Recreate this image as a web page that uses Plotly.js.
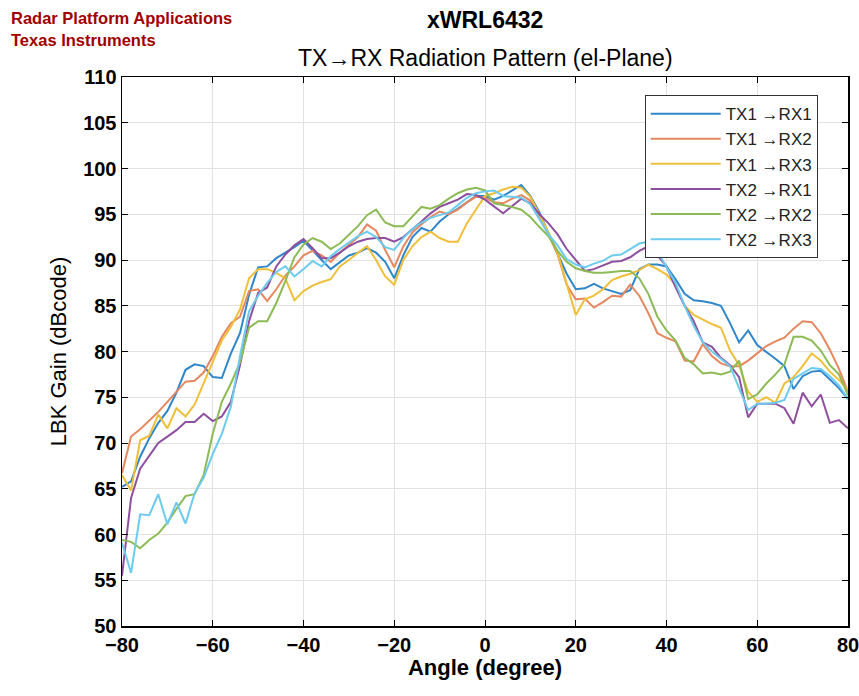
<!DOCTYPE html>
<html>
<head>
<meta charset="utf-8">
<script src="https://cdn.plot.ly/plotly-3.0.1.min.js"></script>
<style>html,body{margin:0;padding:0;background:#fff;}#chart{width:859px;height:696px;}</style>
</head>
<body>
<div id="chart"></div>
<script>
const angles = [];
for (let a = -80; a <= 80; a += 2) angles.push(a);

const seriesNames = ["TX1 \u2192RX1", "TX1 \u2192RX2", "TX1 \u2192RX3", "TX2 \u2192RX1", "TX2 \u2192RX2", "TX2 \u2192RX3"];
const seriesColors = ["#2f86c9", "#e5875f", "#efbf3a", "#8e4f9e", "#8cbb55", "#6ccbee"];

const tx1rx1 = [65.2,65.8,68.5,70.5,72.2,73.5,75.5,78.0,78.6,78.4,77.2,77.1,79.8,82.0,86.2,89.2,89.3,90.2,90.8,91.4,92.1,91.0,90.0,89.0,89.8,90.5,90.8,91.3,90.8,89.8,88.0,90.5,92.5,93.5,93.1,94.2,95.0,95.6,96.3,97.0,97.0,96.6,97.0,97.6,98.2,97.0,95.2,92.9,90.6,88.5,86.8,86.9,87.4,86.9,86.6,86.3,86.7,89.0,89.5,89.5,89.3,87.9,86.3,85.6,85.5,85.3,85.0,83.1,81.0,82.3,80.7,80.0,79.2,78.4,75.9,77.3,77.8,77.9,77.0,76.0,74.8];
const tx1rx2 = [66.7,70.7,71.5,72.4,73.4,74.5,75.6,76.7,76.8,77.7,79.5,81.6,83.1,83.8,86.6,86.8,85.5,86.8,88.3,89.3,90.5,91.0,90.5,89.8,90.8,91.7,92.5,93.9,93.2,91.1,89.2,91.5,93.0,93.9,94.7,95.3,95.0,95.5,96.3,96.9,96.8,96.3,96.2,96.7,97.1,96.5,94.8,92.8,90.6,87.3,85.7,85.8,84.8,85.4,86.1,86.0,87.3,86.1,84.2,82.0,81.5,81.1,79.0,78.9,80.8,79.5,78.7,78.4,78.4,79.0,79.8,80.6,81.1,81.5,82.5,83.3,83.2,82.0,80.2,78.1,75.6];
const tx1rx3 = [66.5,64.8,70.3,70.8,73.1,71.6,73.8,72.9,74.2,76.5,79.0,81.2,82.7,84.6,88.0,89.0,89.0,88.6,88.0,85.6,86.6,87.2,87.6,87.9,89.3,90.0,90.8,91.5,90.0,88.2,87.3,90.0,91.5,92.5,93.1,92.4,92.0,92.0,94.0,95.5,97.0,97.3,97.7,98.0,97.9,96.9,95.0,93.0,90.8,87.5,84.0,85.7,86.1,86.8,87.8,88.2,88.5,88.9,89.5,89.0,88.4,87.3,85.0,84.0,83.5,83.0,82.6,80.1,78.5,75.6,74.5,75.0,74.4,76.5,77.2,78.4,79.8,79.0,77.8,76.9,75.8];
const tx2rx1 = [55.5,64.0,67.2,68.6,70.0,70.7,71.4,72.3,72.3,73.2,72.4,72.9,74.5,78.5,83.3,86.4,87.0,89.3,90.6,91.6,92.3,91.3,90.2,90.2,90.8,91.5,92.0,92.3,92.4,92.4,92.0,92.5,93.3,94.2,95.1,95.8,96.2,96.6,97.2,97.1,96.6,95.8,95.1,95.9,96.7,96.2,95.0,94.0,92.8,91.2,90.0,88.8,89.0,89.4,89.8,89.9,90.3,91.0,91.5,90.5,89.3,87.0,85.0,83.3,81.0,80.5,79.3,78.5,77.2,72.8,74.3,74.3,74.3,73.8,72.1,75.5,74.0,75.3,72.2,72.5,71.6];
const tx2rx2 = [59.4,59.2,58.5,59.4,60.1,61.3,62.8,64.2,64.4,66.5,71.0,74.5,76.5,78.8,82.6,83.3,83.3,85.3,87.7,90.3,91.7,92.4,92.0,91.2,91.8,92.8,93.7,94.9,95.5,94.1,93.7,93.7,94.7,95.8,95.6,96.0,96.7,97.3,97.7,97.9,97.6,96.2,96.0,95.8,95.5,94.7,93.6,92.6,91.0,89.8,89.1,88.8,88.6,88.6,88.7,88.8,88.8,88.0,86.3,83.8,82.3,81.2,79.3,78.6,77.6,77.7,77.5,77.8,79.0,74.8,75.3,76.5,77.5,78.6,81.6,81.6,81.2,80.1,78.5,77.5,75.2];
const tx2rx3 = [59.1,55.8,62.2,62.1,64.4,61.1,63.5,61.2,64.5,66.2,68.8,71.0,74.0,79.5,84.4,86.1,87.5,88.7,89.3,88.2,89.0,89.9,89.3,90.4,91.2,91.9,92.6,93.1,92.5,91.4,91.1,92.4,93.4,94.1,94.6,94.9,95.2,96.0,96.8,97.3,97.5,97.6,97.0,96.9,96.8,96.1,94.5,92.8,91.6,90.1,89.5,89.2,89.6,89.9,90.5,90.6,91.2,91.8,92.0,91.0,89.2,87.5,85.0,82.8,81.0,80.0,79.2,78.4,76.0,73.6,74.3,74.3,74.4,74.7,77.0,77.6,78.2,78.1,77.3,76.3,74.8];

const seriesValues = [tx1rx1, tx1rx2, tx1rx3, tx2rx1, tx2rx2, tx2rx3];

const xTickVals = [-80, -60, -40, -20, 0, 20, 40, 60, 80];
const yTickVals = [50, 55, 60, 65, 70, 75, 80, 85, 90, 95, 100, 105, 110];

const FONT = 'Liberation Sans, Arial, sans-serif';

const traces = seriesValues.map((vals, i) => ({
  x: angles,
  y: vals,
  type: 'scatter',
  mode: 'lines',
  name: seriesNames[i],
  line: {color: seriesColors[i], width: 2}
}));

const axisCommon = {
  showline: true,
  linecolor: '#000',
  linewidth: 1.5,
  mirror: 'allticks',
  ticks: 'inside',
  ticklen: 6,
  tickcolor: '#000',
  showgrid: true,
  gridcolor: '#e2e2e2',
  gridwidth: 1,
  zeroline: false,
  ticklabeloverflow: 'allow',
  tickfont: {family: FONT, size: 20, color: '#000', weight: 'bold'}
};

const layout = {
  width: 859,
  height: 696,
  margin: {l: 122, r: 11, t: 77, b: 70},
  paper_bgcolor: '#fff',
  plot_bgcolor: '#fff',
  showlegend: true,
  xaxis: Object.assign({}, axisCommon, {
    range: [-80, 80],
    tickvals: xTickVals,
    title: {text: '<b>Angle (degree)</b>', font: {family: FONT, size: 22, color: '#000'}, standoff: 4}
  }),
  yaxis: Object.assign({}, axisCommon, {
    range: [50, 110],
    tickvals: yTickVals,
    title: {text: 'LBK Gain (dBcode)', font: {family: FONT, size: 22, color: '#000'}, standoff: 10}
  }),
  legend: {
    x: 0.72, xanchor: 'left', y: 0.967, yanchor: 'top',
    bgcolor: '#fff', bordercolor: '#333', borderwidth: 1,
    font: {family: FONT, size: 17, color: '#222'},
    itemwidth: 70,
    tracegroupgap: 0
  },
  annotations: [
    {text: '<b>xWRL6432</b>', xref: 'paper', yref: 'paper', x: 0.5, y: 1.104, xanchor: 'center', yanchor: 'middle', showarrow: false,
     font: {family: FONT, size: 23, color: '#000'}},
    {text: 'TX\u2192RX Radiation Pattern (el-Plane)', xref: 'paper', yref: 'paper', x: 0.5, y: 1.035, xanchor: 'center', yanchor: 'middle', showarrow: false,
     font: {family: FONT, size: 23, color: '#000'}},
    {text: '<b>Radar Platform Applications</b>', xref: 'paper', yref: 'paper', x: -0.155, y: 1.107, xanchor: 'left', yanchor: 'middle', showarrow: false,
     font: {family: FONT, size: 16.5, color: '#a00000'}},
    {text: '<b>Texas Instruments</b>', xref: 'paper', yref: 'paper', x: -0.155, y: 1.067, xanchor: 'left', yanchor: 'middle', showarrow: false,
     font: {family: FONT, size: 16.5, color: '#a00000'}}
  ]
};

Plotly.newPlot('chart', traces, layout, {displayModeBar: false, staticPlot: true});
</script>
</body>
</html>
